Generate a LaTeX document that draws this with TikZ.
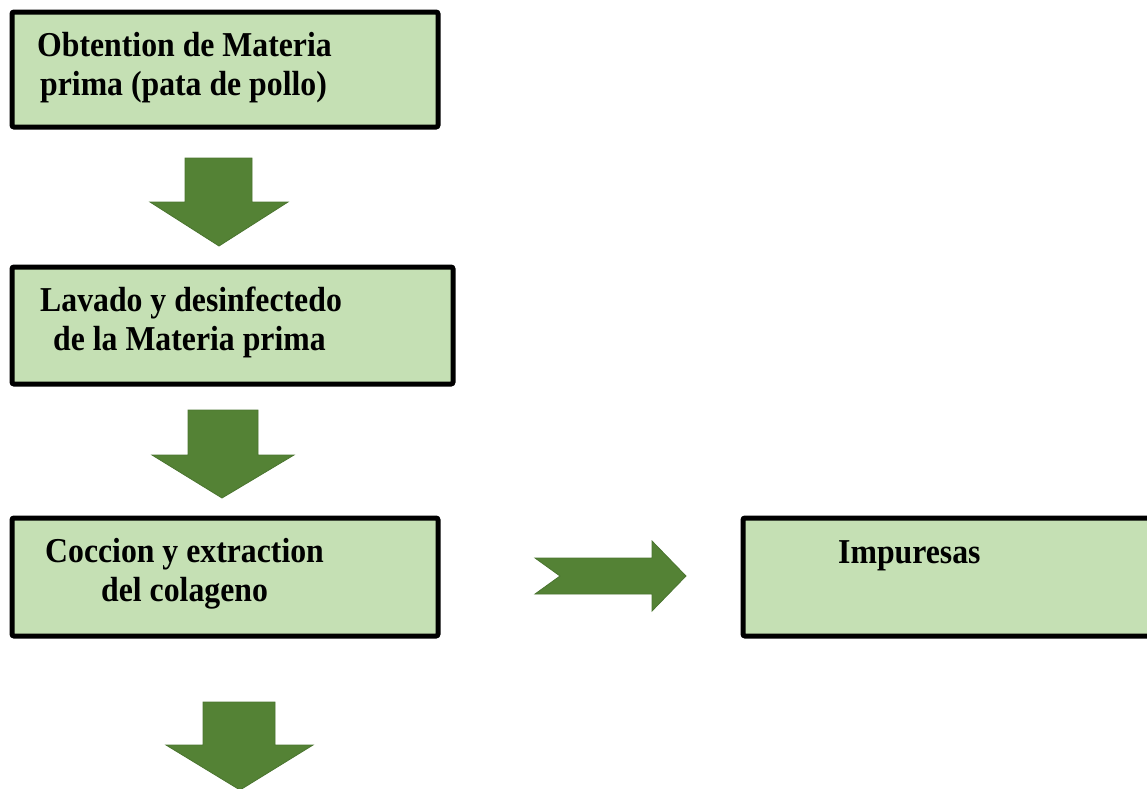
\documentclass[tikz,border=0pt]{standalone}
\usepackage{fontspec}
\setmainfont{Liberation Serif}[FakeStretch=0.91]
\usepackage{xcolor}
\definecolor{boxgreen}{HTML}{C5E0B4}
\definecolor{arrowgreen}{HTML}{548235}
\definecolor{arrowedge}{HTML}{4A742F}
\tikzset{
	stepbox/.style = {draw = black, fill = boxgreen, line width = 5pt, rounded corners = 2pt},
	steptext/.style = {anchor = base west, inner sep = 0pt, font = \fontsize{34.9}{39}\selectfont\bfseries},
	blockarrow/.style = {fill = arrowgreen, draw = arrowedge, line width = 0.8pt}
}

\begin{document}
\begin{tikzpicture}[x = 1pt, y = -1pt]
			\useasboundingbox (0,0) rectangle (1147,788);
			
			% boxes
			\draw[stepbox] (12,12) rectangle (438,127);
			\draw[stepbox] (12,267) rectangle (453,384);
			\draw[stepbox] (12,518) rectangle (438,636);
			\draw[stepbox] (743,518) rectangle (1170,636);
			
			\node[steptext] (obt1) at (37,56) {Obtention de Materia};
			\node[steptext] (obt2) at (40,95) {prima (pata de pollo)};
			\node[steptext] (lav1) at (40,311) {Lavado y desinfectedo};
			\node[steptext] (lav2) at (53,350) {de la Materia prima};
			\node[steptext] (coc1) at (45,562) {Coccion y extraction};
			\node[steptext] (coc2) at (101,601) {del colageno};
			\node[steptext] (imp) at (838,563) {Impuresas};
			
			% arrows
			\draw[blockarrow] (185,158) -- (252,158) -- (252,202) -- (288,202) -- (219,246) -- (150,202) -- (185,202) -- cycle;
			\draw[blockarrow] (188,410) -- (258,410) -- (258,455) -- (294,455) -- (222,498) -- (152,455) -- (188,455) -- cycle;
			\draw[blockarrow] (535,558) -- (652,558) -- (652,541) -- (686,576) -- (652,611) -- (652,594) -- (535,594) -- (560,576) -- cycle;
			\draw[blockarrow] (203,702) -- (275,702) -- (275,745) -- (313,745) -- (240,790) -- (166,745) -- (203,745) -- cycle;
		\end{tikzpicture}
\end{document}
